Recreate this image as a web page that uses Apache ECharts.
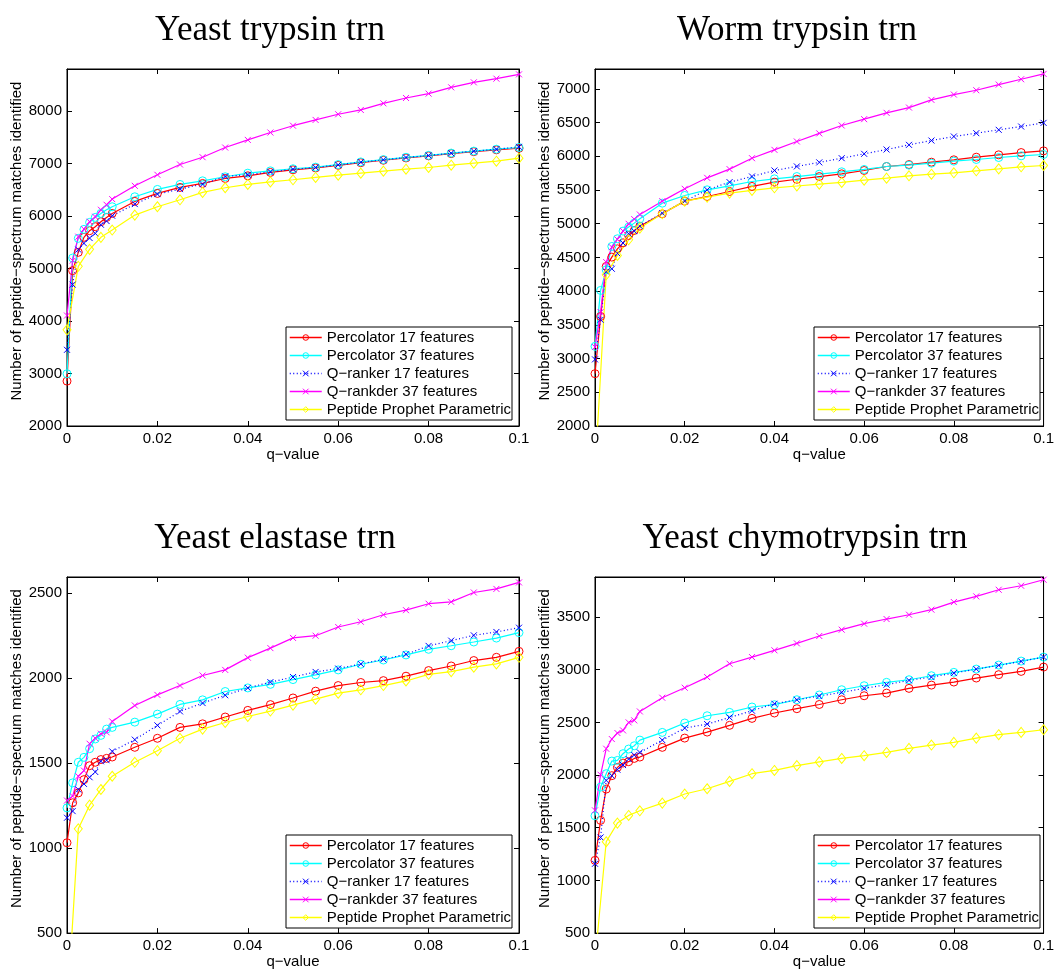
<!DOCTYPE html>
<html><head><meta charset="utf-8">
<script src="https://cdn.jsdelivr.net/npm/echarts@6/dist/echarts.min.js"></script>
<style>html,body{margin:0;padding:0;background:#fff}#c{width:1057px;height:970px}</style>
</head><body><div id="c"></div>
<script>
// q-values of the sampled points
const qMain = [0, 0.00125, 0.0025, 0.00375, 0.005, 0.00625, 0.0075, 0.00875, 0.01, 0.015, 0.02, 0.025, 0.03, 0.035, 0.04, 0.045, 0.05, 0.055, 0.06, 0.065, 0.07, 0.075, 0.08, 0.085, 0.09, 0.095, 0.1];
const qProphet = [0, 0.0025, 0.005, 0.0075, 0.01, 0.015, 0.02, 0.025, 0.03, 0.035, 0.04, 0.045, 0.05, 0.055, 0.06, 0.065, 0.07, 0.075, 0.08, 0.085, 0.09, 0.095, 0.1];

const seriesNames = ['Percolator 17 features', 'Percolator 37 features', 'Q\u2212ranker 17 features', 'Q\u2212rankder 37 features', 'Peptide Prophet Parametric'];
const panelTitles = ['Yeast trypsin trn', 'Worm trypsin trn', 'Yeast elastase trn', 'Yeast chymotrypsin trn'];
const xTickLabels = ['0', '0.02', '0.04', '0.06', '0.08', '0.1'];

// Yeast trypsin
const ytPerc17 = [2855, 4959, 5308, 5593, 5720, 5796, 5891, 5973, 6049, 6278, 6430, 6544, 6620, 6715, 6766, 6830, 6880, 6915, 6965, 7015, 7062, 7106, 7145, 7188, 7225, 7260, 7290];
const ytPerc37 = [2995, 5200, 5574, 5745, 5878, 5973, 6049, 6119, 6176, 6366, 6506, 6601, 6670, 6747, 6816, 6860, 6900, 6930, 6980, 7030, 7075, 7118, 7155, 7198, 7236, 7272, 7305];
const ytQr17 = [3451, 4693, 5359, 5479, 5580, 5669, 5834, 5904, 6005, 6227, 6417, 6512, 6607, 6753, 6785, 6840, 6890, 6924, 6975, 7025, 7070, 7114, 7152, 7196, 7234, 7272, 7317];
const ytQr37 = [4104, 5150, 5606, 5751, 5891, 5986, 6119, 6214, 6322, 6575, 6785, 6981, 7120, 7304, 7450, 7590, 7720, 7830, 7938, 8020, 8146, 8248, 8331, 8451, 8546, 8616, 8698];
const ytProphet = [3831, 5042, 5365, 5593, 5732, 6017, 6176, 6309, 6449, 6538, 6601, 6650, 6690, 6734, 6778, 6816, 6854, 6892, 6924, 6968, 7006, 7044, 7101];

// Worm trypsin
const wtPerc17 = [2776, 3625, 4367, 4505, 4628, 4717, 4826, 4900, 4964, 5147, 5335, 5404, 5478, 5553, 5617, 5660, 5700, 5740, 5790, 5849, 5878, 5913, 5948, 5987, 6022, 6056, 6081];
const wtPerc37 = [3181, 4011, 4317, 4663, 4777, 4891, 4950, 5009, 5073, 5305, 5419, 5503, 5562, 5626, 5666, 5700, 5735, 5770, 5805, 5849, 5869, 5898, 5928, 5953, 5982, 6007, 6027];
const wtQr17 = [2988, 3576, 4290, 4332, 4560, 4713, 4851, 4891, 4964, 5157, 5335, 5503, 5617, 5701, 5790, 5850, 5910, 5972, 6037, 6101, 6170, 6234, 6294, 6343, 6393, 6442, 6496];
const wtQr37 = [3171, 3690, 4431, 4653, 4767, 4891, 4999, 5068, 5137, 5335, 5518, 5681, 5810, 5972, 6096, 6220, 6340, 6457, 6551, 6645, 6723, 6837, 6916, 6980, 7064, 7143, 7222];
const wtProphet = [1311, 4243, 4530, 4762, 4935, 5147, 5335, 5395, 5454, 5494, 5533, 5560, 5588, 5612, 5646, 5676, 5711, 5735, 5755, 5785, 5814, 5844, 5864];

// Yeast elastase
const yePerc17 = [1031, 1266, 1324, 1402, 1484, 1504, 1520, 1527, 1535, 1592, 1645, 1709, 1730, 1770, 1809, 1843, 1882, 1922, 1955, 1973, 1984, 2010, 2043, 2070, 2102, 2121, 2156];
const yePerc37 = [1236, 1383, 1504, 1533, 1584, 1641, 1662, 1699, 1709, 1740, 1787, 1844, 1871, 1920, 1941, 1962, 1990, 2018, 2047, 2080, 2105, 2135, 2168, 2189, 2211, 2234, 2266];
const yeQr17 = [1178, 1217, 1344, 1377, 1416, 1447, 1510, 1516, 1568, 1637, 1721, 1803, 1852, 1898, 1941, 1975, 2005, 2035, 2055, 2082, 2109, 2139, 2188, 2219, 2250, 2270, 2295];
const yeQr37 = [1279, 1305, 1422, 1455, 1613, 1646, 1672, 1680, 1744, 1838, 1900, 1955, 2014, 2047, 2119, 2175, 2235, 2248, 2299, 2330, 2371, 2398, 2436, 2447, 2502, 2523, 2561];
const yeProphet = [20, 1113, 1252, 1344, 1422, 1504, 1572, 1645, 1699, 1738, 1773, 1805, 1840, 1875, 1910, 1930, 1955, 1982, 2021, 2037, 2063, 2082, 2121];

// Yeast chymotrypsin
const ycPerc17 = [1190, 1570, 1867, 1994, 2073, 2114, 2127, 2158, 2171, 2263, 2351, 2408, 2472, 2538, 2589, 2630, 2670, 2715, 2753, 2778, 2823, 2854, 2883, 2921, 2953, 2984, 3025];
const ycPerc37 = [1614, 1886, 2013, 2133, 2139, 2203, 2247, 2278, 2332, 2405, 2494, 2563, 2595, 2646, 2668, 2715, 2760, 2810, 2848, 2880, 2905, 2943, 2975, 3006, 3044, 3082, 3120];
const ycQr17 = [1158, 1408, 1949, 1994, 2051, 2095, 2152, 2190, 2215, 2332, 2446, 2484, 2547, 2611, 2677, 2715, 2750, 2785, 2823, 2858, 2899, 2930, 2968, 3006, 3041, 3079, 3120];
const ycQr37 = [1665, 2003, 2250, 2342, 2399, 2424, 2500, 2519, 2604, 2734, 2829, 2930, 3057, 3120, 3184, 3250, 3320, 3380, 3437, 3481, 3522, 3570, 3642, 3696, 3759, 3797, 3854];
const ycProphet = [234, 1367, 1544, 1617, 1661, 1734, 1820, 1870, 1940, 2013, 2044, 2090, 2125, 2158, 2184, 2215, 2253, 2285, 2310, 2351, 2383, 2405, 2430];

const panelData = [
  [ytPerc17, ytPerc37, ytQr17, ytQr37, ytProphet],
  [wtPerc17, wtPerc37, wtQr17, wtQr37, wtProphet],
  [yePerc17, yePerc37, yeQr17, yeQr37, yeProphet],
  [ycPerc17, ycPerc37, ycQr17, ycQr37, ycProphet]
];
// y-axis ranges (min, max, interval)
const yRanges = [[2000, 8800, 1000], [2000, 7295, 500], [500, 2593, 500], [500, 3880, 500]];

// layout (not data)
const grids = [
  {left: 67, top: 69, width: 452, height: 357},
  {left: 595, top: 69, width: 452, height: 357},
  {left: 67, top: 577, width: 452, height: 357},
  {left: 595, top: 577, width: 452, height: 357}
];
const titlePos = [[265, 8], [792, 8], [270, 516], [800, 516]];
const legendPos = [[286, 327], [814, 327], [286, 835], [814, 835]];

const SANS = 'Liberation Sans';
const X_PATH = 'path://M0,0L10,10M10,0L0,10';
const styles = [
  {c: '#ff0000', symbol: 'circle', size: 8, type: 'solid'},
  {c: '#00ffff', symbol: 'circle', size: 8, type: 'solid'},
  {c: '#0000ff', symbol: X_PATH, size: 6, type: [1, 2.5]},
  {c: '#ff00ff', symbol: X_PATH, size: 6, type: 'solid'},
  {c: '#ffff00', symbol: 'diamond', size: [8, 10], type: 'solid'}
];

const option = {
  animation: false,
  backgroundColor: '#fff',
  title: [], grid: [], xAxis: [], yAxis: [], legend: [], series: []
};

const axisCommon = {
  axisLine: {show: true, onZero: false, lineStyle: {color: '#000', width: 1}},
  axisTick: {show: true, inside: true, length: 5, lineStyle: {color: '#000', width: 1}},
  splitLine: {show: false}
};

const legendItems = seriesNames.map((n, s) => ({
  name: n,
  itemStyle: {color: 'rgba(0,0,0,0)', borderColor: styles[s].c, borderWidth: 1},
  lineStyle: {color: styles[s].c, width: 1.5, type: styles[s].type}
}));

for (let i = 0; i < 4; i++) {
  const [ymin, ymax, yint] = yRanges[i];
  option.title.push({
    text: panelTitles[i], left: titlePos[i][0], top: titlePos[i][1], textAlign: 'center',
    textStyle: {fontFamily: 'Liberation Serif', fontSize: 35, fontWeight: 'normal', color: '#000'}
  });
  option.grid.push(Object.assign({show: true, borderColor: '#000', borderWidth: 1, backgroundColor: '#fff'}, grids[i]));
  option.xAxis.push(Object.assign({}, axisCommon, {
    gridIndex: i, type: 'value', min: 0, max: 0.1, interval: 0.02, position: 'bottom',
    axisLabel: {fontFamily: SANS, fontSize: 15, color: '#000', margin: 5,
      formatter: (v) => xTickLabels[Math.round(v / 0.02)]},
    name: 'q\u2212value', nameLocation: 'middle', nameGap: 19,
    nameTextStyle: {fontFamily: SANS, fontSize: 15, color: '#000'}
  }));
  option.xAxis.push(Object.assign({}, axisCommon, {
    gridIndex: i, type: 'value', min: 0, max: 0.1, interval: 0.02, position: 'top',
    axisLabel: {show: false}
  }));
  option.yAxis.push(Object.assign({}, axisCommon, {
    gridIndex: i, type: 'value', min: ymin, max: ymax, interval: yint, position: 'left',
    axisLabel: {fontFamily: SANS, fontSize: 15, color: '#000', margin: 5,
      formatter: (v) => (v % yint === 0 ? String(v) : '')},
    name: 'Number of peptide\u2212spectrum matches identified', nameLocation: 'middle', nameGap: 34,
    nameTextStyle: {fontFamily: SANS, fontSize: 15, color: '#000', padding: [0, 0, 0, 13]}
  }));
  option.yAxis.push(Object.assign({}, axisCommon, {
    gridIndex: i, type: 'value', min: ymin, max: ymax, interval: yint, position: 'right',
    axisLabel: {show: false}
  }));
  option.legend.push({
    left: legendPos[i][0], top: legendPos[i][1], orient: 'vertical',
    data: legendItems, selectedMode: false,
    backgroundColor: '#fff', borderColor: '#000', borderWidth: 1, borderRadius: 0,
    padding: [3, 1, 3, 3], itemWidth: 32, itemHeight: 7, itemGap: 3,
    textStyle: {fontFamily: SANS, fontSize: 15, color: '#000', lineHeight: 15, padding: [0, 0, 0, 0]}
  });
  for (let s = 0; s < 5; s++) {
    const st = styles[s];
    const xs = s === 4 ? qProphet : qMain;
    const ys = panelData[i][s];
    option.series.push({
      name: seriesNames[s], type: 'line', xAxisIndex: 2 * i, yAxisIndex: 2 * i,
      data: xs.map((q, k) => [q, ys[k]]),
      symbol: st.symbol, symbolSize: st.size, showAllSymbol: true, clip: true, silent: true,
      itemStyle: {color: 'none', borderColor: st.c, borderWidth: 1},
      lineStyle: {color: st.c, width: 1.2, type: st.type},
      emphasis: {disabled: true}
    });
  }
}

const chart = echarts.init(document.getElementById('c'));
chart.setOption(option);
</script>
</body></html>
